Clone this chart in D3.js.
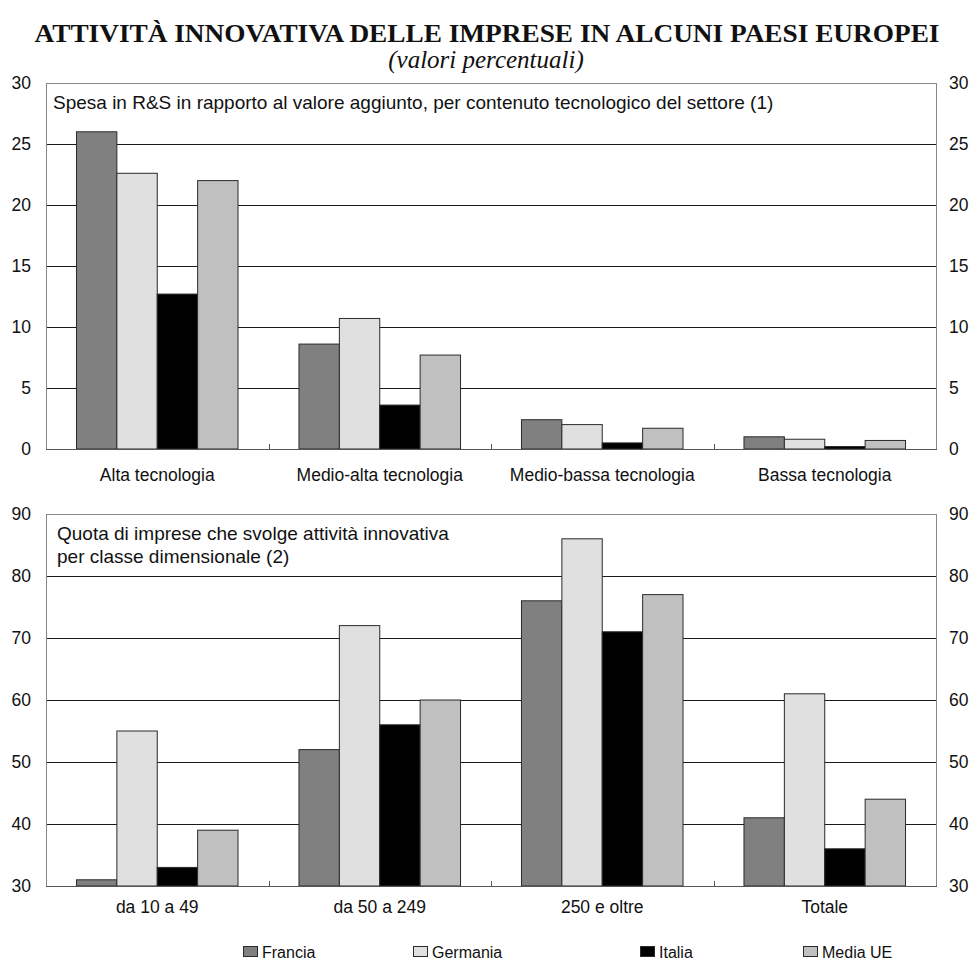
<!DOCTYPE html>
<html>
<head>
<meta charset="utf-8">
<script src="https://cdn.jsdelivr.net/npm/d3@7"></script>
<style>
  html, body { margin: 0; padding: 0; background: #fff; }
  svg { display: block; }
  text { font-family: "Liberation Sans", Arial, sans-serif; fill: #111; }
</style>
</head>
<body>
<svg id="chart" width="972" height="963"></svg>
<script>
// Series (countries) and their fills
const series = ["Francia", "Germania", "Italia", "Media UE"];
const seriesColors = ["#808080", "#e0e0e0", "#000000", "#c0c0c0"];

// Panel 1: R&D spending over value added, by technology content
const techCategories = ["Alta tecnologia", "Medio-alta tecnologia", "Medio-bassa tecnologia", "Bassa tecnologia"];
const techFrancia  = [26.0, 8.6, 2.4, 1.0];
const techGermania = [22.6, 10.7, 2.0, 0.8];
const techItalia   = [12.7, 3.6, 0.5, 0.2];
const techMediaUE  = [22.0, 7.7, 1.7, 0.7];
const techTicks = [0, 5, 10, 15, 20, 25, 30];

// Panel 2: share of innovating firms, by size class
const sizeCategories = ["da 10 a 49", "da 50 a 249", "250 e oltre", "Totale"];
const sizeFrancia  = [31, 52, 76, 41];
const sizeGermania = [55, 72, 86, 61];
const sizeItalia   = [33, 56, 71, 36];
const sizeMediaUE  = [39, 60, 77, 44];
const sizeTicks = [30, 40, 50, 60, 70, 80, 90];

const svg = d3.select("#chart");

// Heading
svg.append("text")
  .attr("x", 487).attr("y", 42)
  .attr("text-anchor", "middle")
  .attr("textLength", 905).attr("lengthAdjust", "spacingAndGlyphs")
  .style("font-family", "'Liberation Serif', 'Times New Roman', serif")
  .style("font-weight", "bold").style("font-size", "26px")
  .text("ATTIVITÀ INNOVATIVA DELLE IMPRESE IN ALCUNI PAESI EUROPEI");
svg.append("text")
  .attr("x", 486).attr("y", 68)
  .attr("text-anchor", "middle")
  .style("font-family", "'Liberation Serif', 'Times New Roman', serif")
  .style("font-style", "italic").style("font-size", "25px")
  .text("(valori percentuali)");

function drawPanel(opts) {
  const { categories, values, ticks, top, bottom, titleLines, titleX, titleY, labelY } = opts;
  const left = 46, right = 936;
  const g = svg.append("g");

  const x0 = d3.scaleBand().domain(categories).range([left, right])
    .paddingInner(0.274).paddingOuter(0.137);
  const x1 = d3.scaleBand().domain(series).range([0, x0.bandwidth()]);
  const y = d3.scaleLinear().domain([ticks[0], ticks[ticks.length - 1]]).range([bottom, top]);

  // horizontal gridlines
  g.append("g").selectAll("line")
    .data(ticks.slice(1, -1))
    .join("line")
    .attr("x1", left).attr("x2", right)
    .attr("y1", d => Math.round(y(d)) + 0.5).attr("y2", d => Math.round(y(d)) + 0.5)
    .attr("stroke", "#1a1a1a").attr("stroke-width", 1);

  // bars
  const rows = categories.map((c, i) => ({ cat: c, vals: series.map((s, k) => ({ s, k, v: values[k][i] })) }));
  g.append("g").selectAll("g")
    .data(rows)
    .join("g")
    .attr("transform", d => `translate(${x0(d.cat)},0)`)
    .selectAll("rect")
    .data(d => d.vals)
    .join("rect")
    .attr("x", d => x1(d.s))
    .attr("y", d => y(d.v))
    .attr("width", x1.bandwidth())
    .attr("height", d => y(ticks[0]) - y(d.v))
    .attr("fill", d => seriesColors[d.k])
    .attr("stroke", "#2a2a2a").attr("stroke-width", 1);

  // frame
  g.append("rect")
    .attr("x", left + 0.5).attr("y", Math.round(top) + 0.5)
    .attr("width", right - left).attr("height", Math.round(bottom) - Math.round(top))
    .attr("fill", "none").attr("stroke", "#888").attr("stroke-width", 1);
  g.append("line")
    .attr("x1", left).attr("x2", right + 1)
    .attr("y1", Math.round(bottom) + 0.5).attr("y2", Math.round(bottom) + 0.5)
    .attr("stroke", "#555").attr("stroke-width", 1.2);

  // category separator ticks
  const step = x0.step();
  g.append("g").selectAll("line")
    .data(categories.slice(1))
    .join("line")
    .attr("x1", d => Math.round(x0(d) - step * 0.137) + 0.5)
    .attr("x2", d => Math.round(x0(d) - step * 0.137) + 0.5)
    .attr("y1", Math.round(bottom)).attr("y2", Math.round(bottom) - 5)
    .attr("stroke", "#555");

  // left & right value axes
  const axL = d3.axisLeft(y).tickValues(ticks).tickSize(0).tickPadding(15);
  const axR = d3.axisRight(y).tickValues(ticks).tickSize(0).tickPadding(13);
  const gl = g.append("g").attr("transform", `translate(${left},0)`).call(axL);
  const gr = g.append("g").attr("transform", `translate(${right},0)`).call(axR);
  [gl, gr].forEach(a => {
    a.select(".domain").remove();
    a.selectAll("text").style("font-size", "17.5px").style("font-family", "'Liberation Sans', Arial, sans-serif").attr("fill", "#111");
  });

  // category labels
  const axB = d3.axisBottom(x0).tickSize(0).tickPadding(0);
  const gb = g.append("g").attr("transform", `translate(0,${labelY})`).call(axB);
  gb.select(".domain").remove();
  gb.selectAll("text").style("font-size", "17.5px").style("font-family", "'Liberation Sans', Arial, sans-serif").attr("fill", "#111").attr("dy", 0).attr("y", 0);

  // panel title
  g.append("text")
    .attr("x", titleX).attr("y", titleY)
    .style("font-size", "19px")
    .selectAll("tspan")
    .data(titleLines)
    .join("tspan")
    .attr("x", titleX)
    .attr("dy", (d, i) => i === 0 ? 0 : 23)
    .text(d => d);
}

drawPanel({
  categories: techCategories,
  values: [techFrancia, techGermania, techItalia, techMediaUE],
  ticks: techTicks,
  top: 83, bottom: 449,
  titleLines: ["Spesa in R&S in rapporto al valore aggiunto, per contenuto tecnologico del settore (1)"],
  titleX: 53, titleY: 109,
  labelY: 481
});

drawPanel({
  categories: sizeCategories,
  values: [sizeFrancia, sizeGermania, sizeItalia, sizeMediaUE],
  ticks: sizeTicks,
  top: 514, bottom: 886,
  titleLines: ["Quota di imprese che svolge attività innovativa", "per classe dimensionale (2)"],
  titleX: 57, titleY: 540,
  labelY: 913
});

// legend
const legendX = [243, 413, 640, 803];
const lg = svg.append("g").selectAll("g")
  .data(series)
  .join("g")
  .attr("transform", (d, i) => `translate(${legendX[i]},946)`);
lg.append("rect")
  .attr("x", 0.5).attr("y", 0.5).attr("width", 14).attr("height", 10)
  .attr("fill", (d, i) => seriesColors[i])
  .attr("stroke", "#2a2a2a");
lg.append("text")
  .attr("x", 19).attr("y", 11.5)
  .style("font-size", "16px")
  .text(d => d);
</script>
</body>
</html>
